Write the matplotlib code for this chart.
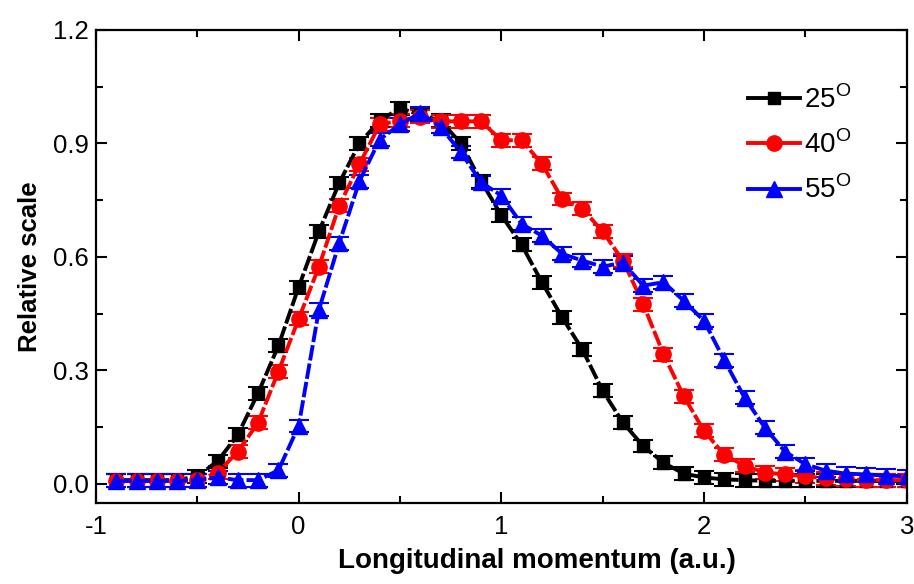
import numpy as np
import matplotlib.pyplot as plt
from matplotlib.ticker import MultipleLocator
from matplotlib.lines import Line2D

plt.rcParams['font.family'] = ['Liberation Sans', 'DejaVu Sans']
plt.rcParams['axes.unicode_minus'] = False

# longitudinal momentum grid (a.u.)
x = np.round(np.arange(-0.9, 3.01, 0.1), 2)

y25 = [0.01, 0.01, 0.01, 0.01, 0.02, 0.06, 0.13, 0.24, 0.365, 0.52,
       0.667, 0.795, 0.90, 0.96, 0.993, 0.975, 0.96, 0.90, 0.80, 0.71,
       0.632, 0.533, 0.44, 0.355, 0.246, 0.162, 0.10, 0.056, 0.027, 0.017,
       0.012, 0.01, 0.008, 0.008, 0.008, 0.008, 0.008, 0.008, 0.008, 0.008]
y40 = [0.008, 0.008, 0.008, 0.008, 0.01, 0.03, 0.085, 0.162, 0.297, 0.436,
       0.574, 0.735, 0.845, 0.95, 0.96, 0.97, 0.958, 0.958, 0.958, 0.908,
       0.908, 0.846, 0.753, 0.727, 0.667, 0.59, 0.475, 0.343, 0.232, 0.14,
       0.077, 0.048, 0.03, 0.025, 0.02, 0.015, 0.012, 0.01, 0.01, 0.01]
y55 = [0.008, 0.008, 0.008, 0.008, 0.01, 0.017, 0.01, 0.01, 0.036, 0.153,
       0.46, 0.636, 0.80, 0.91, 0.95, 0.98, 0.943, 0.877, 0.797, 0.762,
       0.687, 0.656, 0.608, 0.59, 0.574, 0.585, 0.524, 0.533, 0.484, 0.431,
       0.327, 0.228, 0.149, 0.085, 0.052, 0.035, 0.027, 0.025, 0.022, 0.02]
err = 0.017

fig = plt.figure(figsize=(9.14, 5.84), dpi=100)
ax = fig.add_axes([0.105, 0.139, 0.887, 0.81])

series = [(y25, 'black', 's', 9, '25$^\\mathregular{O}$'),
          (y40, 'red', 'o', 11, '40$^\\mathregular{O}$'),
          (y55, 'blue', '^', 11.5, '55$^\\mathregular{O}$')]
handles = []
for y, c, m, ms, lab in series:
    ax.errorbar(x, y, yerr=err, color=c, marker=m, markersize=ms, lw=2.8,
                ls=(0, (4, 0.8)), capsize=7, capthick=1.5, elinewidth=1.5)
    handles.append(Line2D([], [], color=c, marker=m, markersize=ms, lw=2.8,
                          label=lab))

ax.set_xlim(-1, 3)
ax.set_ylim(-0.05, 1.2)
ax.xaxis.set_major_locator(MultipleLocator(1))
ax.xaxis.set_minor_locator(MultipleLocator(0.5))
ax.yaxis.set_major_locator(MultipleLocator(0.3))
ax.yaxis.set_minor_locator(MultipleLocator(0.15))
ax.yaxis.set_major_formatter(plt.FormatStrFormatter('%.1f'))
ax.tick_params(which='both', direction='in', top=True, right=True,
               width=1.5, labelsize=18.5)
ax.tick_params(which='major', length=8, pad=5)
ax.tick_params(axis='x', which='major', pad=9)
ax.tick_params(which='minor', length=5)
for s in ax.spines.values():
    s.set_linewidth(1.6)

ax.set_xlabel('Longitudinal momentum (a.u.)', fontsize=20, fontweight='bold')
ax.xaxis.set_label_coords(0.544, -0.095)
ax.set_ylabel('Relative scale', fontsize=18.5, fontweight='bold', labelpad=8)

ax.legend(handles=handles, loc='upper left', frameon=False,
          fontsize=20, handlelength=1.9, handletextpad=0.12,
          labelspacing=0.6, bbox_to_anchor=(0.773, 0.935))

fig.savefig('out.png', dpi=100)
